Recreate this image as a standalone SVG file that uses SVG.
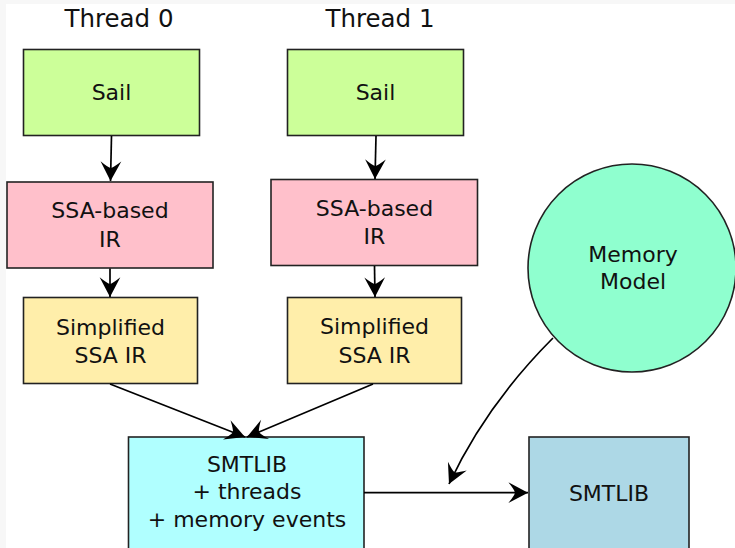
<svg xmlns="http://www.w3.org/2000/svg" width="735" height="548" viewBox="0 0 735 548">
  <style>
    .box { stroke: #222; stroke-width: 1.6; }
    .lbl { font-family: "DejaVu Sans", "Liberation Sans", sans-serif; font-size: 22px; fill: #111; text-anchor: middle; }
    .head { font-size: 24.5px; }
    .edge { fill: none; stroke: #000; stroke-width: 1.7; }
  </style>
  <defs>
    <marker id="arrow" markerUnits="userSpaceOnUse" markerWidth="24" markerHeight="24" viewBox="-20 -11 22 22" refX="0" refY="0" orient="auto">
      <path d="M0,0 L-18,-9.5 Q-12,-2 -12,0 Q-12,2 -18,9.5 Z" fill="#000"/>
    </marker>
  </defs>

  <!-- page background -->
  <rect x="0" y="0" width="735" height="548" fill="#f7f7f7"/>
  <rect x="6" y="4" width="729" height="544" fill="#ffffff"/>

  <!-- column headings -->
  <text class="lbl head" x="119" y="27">Thread 0</text>
  <text class="lbl head" x="380" y="27">Thread 1</text>

  <!-- thread 0 pipeline -->
  <g id="sail0">
    <rect class="box" x="23.5" y="49.5" width="176" height="86" fill="#ccff99"/>
    <text class="lbl" x="111.5" y="100">Sail</text>
  </g>
  <g id="ssa0">
    <rect class="box" x="7" y="182" width="206" height="86" fill="#ffc0cb"/>
    <text class="lbl" x="110" y="218">SSA-based</text>
    <text class="lbl" x="110" y="247">IR</text>
  </g>
  <g id="simp0">
    <rect class="box" x="23.5" y="297.5" width="174" height="86" fill="#ffeeaa"/>
    <text class="lbl" x="110.5" y="335">Simplified</text>
    <text class="lbl" x="110.5" y="363">SSA IR</text>
  </g>

  <!-- thread 1 pipeline -->
  <g id="sail1">
    <rect class="box" x="287.5" y="49.5" width="176" height="86" fill="#ccff99"/>
    <text class="lbl" x="375.5" y="100">Sail</text>
  </g>
  <g id="ssa1">
    <rect class="box" x="271" y="179.5" width="206.5" height="86" fill="#ffc0cb"/>
    <text class="lbl" x="374.5" y="216">SSA-based</text>
    <text class="lbl" x="374.5" y="244">IR</text>
  </g>
  <g id="simp1">
    <rect class="box" x="287.5" y="297.5" width="174" height="86" fill="#ffeeaa"/>
    <text class="lbl" x="374.5" y="334">Simplified</text>
    <text class="lbl" x="374.5" y="363">SSA IR</text>
  </g>

  <!-- memory model -->
  <g id="memory">
    <circle class="box" cx="632" cy="268" r="104" fill="#8fffcf"/>
    <text class="lbl" x="633" y="262">Memory</text>
    <text class="lbl" x="633" y="289">Model</text>
  </g>

  <!-- SMTLIB stages -->
  <g id="smtlib-events">
    <rect class="box" x="128.5" y="437" width="235.5" height="120" fill="#b0ffff"/>
    <text class="lbl" x="247" y="472">SMTLIB</text>
    <text class="lbl" x="247" y="499">+ threads</text>
    <text class="lbl" x="247" y="527">+ memory events</text>
  </g>
  <g id="smtlib">
    <rect class="box" x="529" y="437" width="160" height="120" fill="#add8e6"/>
    <text class="lbl" x="609" y="501">SMTLIB</text>
  </g>

  <!-- connectors -->
  <g id="connectors">
    <path class="edge" d="M111.5,136 L110.5,181" marker-end="url(#arrow)"/>
    <path class="edge" d="M110,268.5 L110,297" marker-end="url(#arrow)"/>
    <path class="edge" d="M376,136 L375,179" marker-end="url(#arrow)"/>
    <path class="edge" d="M374.5,266 L375,297" marker-end="url(#arrow)"/>
    <path class="edge" d="M110,384 L245,437" marker-end="url(#arrow)"/>
    <path class="edge" d="M373,384 L247,437" marker-end="url(#arrow)"/>
    <path class="edge" d="M364,492.7 L528,492.7" marker-end="url(#arrow)"/>
    <path class="edge" d="M553,338 Q486,405 449,484" marker-end="url(#arrow)"/>
  </g>
</svg>
